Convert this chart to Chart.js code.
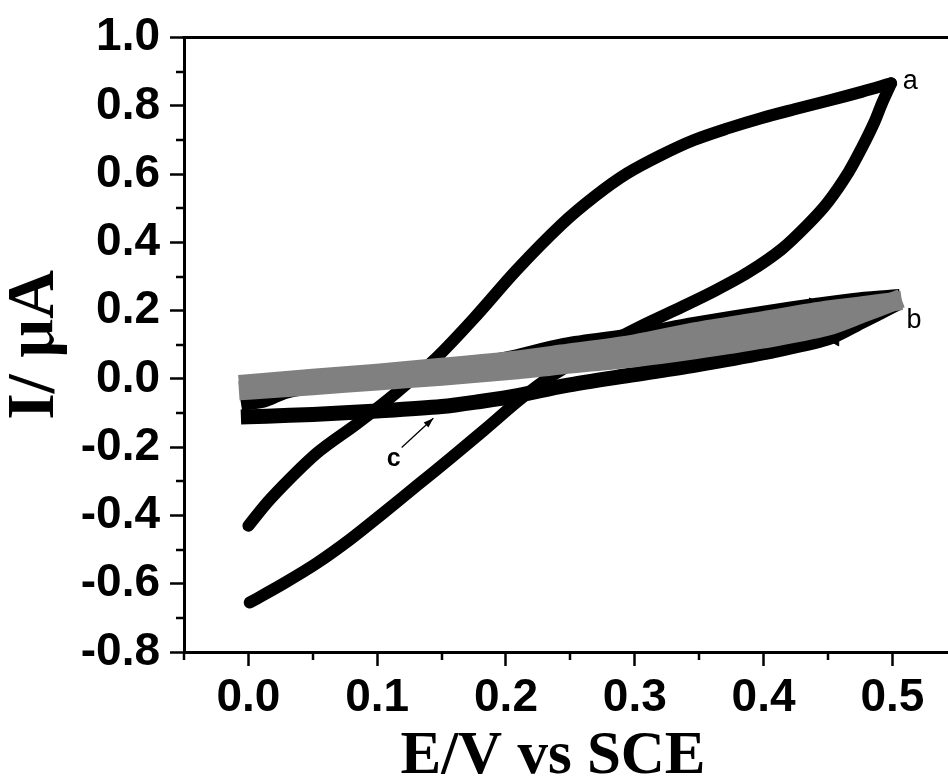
<!DOCTYPE html>
<html><head><meta charset="utf-8">
<script src="https://cdn.jsdelivr.net/npm/chart.js@4.4.1/dist/chart.umd.min.js"></script>
<style>html,body{margin:0;padding:0;background:#fff;overflow:hidden}#wrap{width:948px;height:784px;position:relative}</style>
</head><body><div id="wrap"><canvas id="cv"></canvas></div>
<script>
// ---- tick values ----
const xMajorTicks = [0.0, 0.1, 0.2, 0.3, 0.4, 0.5];
const xMinorTicks = [-0.05, 0.05, 0.15, 0.25, 0.35, 0.45];
const yMajorTicks = [-0.8, -0.6, -0.4, -0.2, 0.0, 0.2, 0.4, 0.6, 0.8, 1.0];
const yMinorTicks = [-0.7, -0.5, -0.3, -0.1, 0.1, 0.3, 0.5, 0.7, 0.9];

// ---- curve a (forward / reverse scan) ----
const aForwardE = [0.000, 0.017, 0.053, 0.084, 0.115, 0.146, 0.175, 0.208, 0.243, 0.269, 0.294, 0.320, 0.346, 0.372, 0.398, 0.424, 0.450, 0.476, 0.499];
const aForwardI = [-0.430, -0.352, -0.218, -0.132, -0.040, 0.062, 0.177, 0.318, 0.452, 0.535, 0.602, 0.655, 0.700, 0.734, 0.764, 0.790, 0.815, 0.841, 0.866];
const aReverseE = [0.499, 0.492, 0.486, 0.476, 0.466, 0.450, 0.435, 0.414, 0.388, 0.362, 0.336, 0.310, 0.280, 0.250, 0.228, 0.209, 0.183, 0.157, 0.131, 0.105, 0.079, 0.053, 0.027, 0.001];
const aReverseI = [0.866, 0.808, 0.752, 0.675, 0.606, 0.518, 0.455, 0.380, 0.312, 0.258, 0.210, 0.164, 0.106, 0.042, -0.010, -0.066, -0.150, -0.232, -0.312, -0.392, -0.470, -0.540, -0.600, -0.655];

// ---- curve b (grey) ----
const bUpperE = [0.000, 0.050, 0.100, 0.150, 0.209, 0.243, 0.300, 0.346, 0.400, 0.450, 0.480, 0.500];
const bUpperI = [-0.014, 0.002, 0.017, 0.034, 0.056, 0.073, 0.103, 0.138, 0.171, 0.202, 0.216, 0.226];
const bLowerE = [0.500, 0.476, 0.450, 0.400, 0.346, 0.300, 0.243, 0.209, 0.150, 0.100, 0.050, 0.000];
const bLowerI = [0.226, 0.191, 0.155, 0.117, 0.085, 0.062, 0.041, 0.027, 0.008, -0.006, -0.020, -0.033];

// ---- curve c (black, under b) ----
const cUpperE = [0.000, 0.012, 0.030, 0.060, 0.100, 0.150, 0.200, 0.245, 0.300, 0.346, 0.400, 0.440, 0.470, 0.500];
const cUpperI = [-0.069, -0.062, -0.035, -0.015, 0.003, 0.025, 0.058, 0.098, 0.128, 0.160, 0.193, 0.215, 0.230, 0.240];
const cLowerE = [0.500, 0.476, 0.450, 0.400, 0.346, 0.300, 0.245, 0.210, 0.180, 0.150, 0.100, 0.050, 0.014, 0.000];
const cLowerI = [0.214, 0.168, 0.120, 0.077, 0.040, 0.013, -0.020, -0.048, -0.066, -0.081, -0.094, -0.104, -0.109, -0.111];

// ---- scan-direction arrowheads on c ----
const arrowE = [0.438, 0.456];
const arrowI = [0.222, 0.112];
const arrowAngle = [90, 270];

// ---- curve labels ----
const curveLabels = [
  {text: 'a', E: 0.508, I: 0.849},
  {text: 'b', E: 0.511, I: 0.149},
  {text: 'c', E: 0.1074, I: -0.254}
];
const cPointer = {fromE: 0.119, fromI: -0.201, toE: 0.1436, toI: -0.115};

const xTitle = 'E/V vs SCE';
const yTitle = 'I/ \u03bcA';

function pts(E, I) { return E.map((e, i) => ({x: e, y: I[i]})); }
function isIn(list, v) { return list.some(t => Math.abs(t - v) < 1e-9); }

const lineBase = {showLine: true, pointRadius: 0, fill: false, tension: 0.3, borderJoinStyle: 'round'};

const overlay = {
  id: 'overlay',
  afterDraw(chart) {
    const {ctx, chartArea: ca, scales: {x, y}} = chart;
    ctx.save();
    ctx.strokeStyle = '#000';
    ctx.lineWidth = 3;
    ctx.beginPath(); ctx.moveTo(ca.left - 1.5, ca.top); ctx.lineTo(chart.width, ca.top); ctx.stroke();
    ctx.beginPath(); ctx.moveTo(ca.right - 1, ca.bottom + 0.5); ctx.lineTo(chart.width, ca.bottom + 0.5); ctx.stroke();
    ctx.lineWidth = 2.5;
    xMinorTicks.forEach(v => {
      const px = Math.round(x.getPixelForValue(v));
      ctx.beginPath(); ctx.moveTo(px, ca.bottom); ctx.lineTo(px, ca.bottom + 8); ctx.stroke();
    });
    yMinorTicks.forEach(v => {
      const py = Math.round(y.getPixelForValue(v));
      ctx.beginPath(); ctx.moveTo(ca.left, py); ctx.lineTo(ca.left - 8, py); ctx.stroke();
    });
    ctx.fillStyle = '#000';
    ctx.textAlign = 'left';
    ctx.textBaseline = 'alphabetic';
    curveLabels.forEach(l => {
      ctx.font = (l.text === 'c' ? 'bold 25px' : '27px') + ' "Liberation Sans", Arial, sans-serif';
      ctx.fillText(l.text, x.getPixelForValue(l.E), y.getPixelForValue(l.I));
    });
    const x1 = x.getPixelForValue(cPointer.fromE), y1 = y.getPixelForValue(cPointer.fromI);
    const x2 = x.getPixelForValue(cPointer.toE), y2 = y.getPixelForValue(cPointer.toI);
    ctx.lineWidth = 1.3;
    ctx.beginPath(); ctx.moveTo(x1, y1); ctx.lineTo(x2, y2); ctx.stroke();
    const ang = Math.atan2(y2 - y1, x2 - x1);
    ctx.beginPath();
    ctx.moveTo(x2, y2);
    ctx.lineTo(x2 - 10 * Math.cos(ang) + 3.5 * Math.sin(ang), y2 - 10 * Math.sin(ang) - 3.5 * Math.cos(ang));
    ctx.lineTo(x2 - 10 * Math.cos(ang) - 3.5 * Math.sin(ang), y2 - 10 * Math.sin(ang) + 3.5 * Math.cos(ang));
    ctx.closePath(); ctx.fill();
    ctx.restore();
  }
};

new Chart(document.getElementById('cv'), {
  type: 'scatter',
  data: {
    datasets: [
      Object.assign({label: 'b upper', data: pts(bUpperE, bUpperI), borderColor: '#808080', borderWidth: 19, borderCapStyle: 'square', order: 0}, lineBase),
      Object.assign({label: 'b lower', data: pts(bLowerE, bLowerI), borderColor: '#808080', borderWidth: 19, borderCapStyle: 'square', order: 0}, lineBase),
      {label: 'arrows', data: pts(arrowE, arrowI), showLine: false, pointStyle: 'triangle', pointRadius: 6, pointRotation: arrowAngle, backgroundColor: '#000', borderColor: '#000', borderWidth: 1, order: 0.5},
      Object.assign({label: 'c upper', data: pts(cUpperE, cUpperI), borderColor: '#000', borderWidth: 15, borderCapStyle: 'square', order: 1}, lineBase),
      Object.assign({label: 'c lower', data: pts(cLowerE, cLowerI), borderColor: '#000', borderWidth: 15, borderCapStyle: 'square', order: 1}, lineBase),
      Object.assign({label: 'a forward', data: pts(aForwardE, aForwardI), borderColor: '#000', borderWidth: 12, borderCapStyle: 'round', order: 2}, lineBase),
      Object.assign({label: 'a reverse', data: pts(aReverseE, aReverseI), borderColor: '#000', borderWidth: 12, borderCapStyle: 'round', order: 2}, lineBase)
    ]
  },
  options: {
    responsive: true,
    maintainAspectRatio: false,
    animation: false,
    devicePixelRatio: 1,
    layout: {padding: {top: 35, right: 26, left: 0, bottom: 0}},
    plugins: {legend: {display: false}, tooltip: {enabled: false}},
    scales: {
      x: {
        type: 'linear', position: 'bottom', min: -0.05, max: 0.523,
        afterBuildTicks: s => { s.ticks = [...xMinorTicks, ...xMajorTicks].sort((a, b) => a - b).map(v => ({value: v})); },
        afterFit: s => { s.height = 132; },
        border: {display: true, color: '#000', width: 3},
        grid: {display: true, drawOnChartArea: false, drawTicks: true, tickLength: 14, tickWidth: 2.5,
               tickColor: c => isIn(xMajorTicks, c.tick.value) ? '#000' : 'rgba(0,0,0,0)'},
        ticks: {autoSkip: false, maxRotation: 0, minRotation: 0, padding: 5, color: '#000',
                font: {family: '"Liberation Sans", Arial, sans-serif', weight: 'bold', size: 46},
                callback: v => isIn(xMajorTicks, v) ? Number(v).toFixed(1) : ''},
        title: {display: true, text: xTitle, color: '#000', padding: 0,
                font: {family: '"Liberation Serif", "Times New Roman", serif', weight: 'bold', size: 61, lineHeight: 0.88}}
      },
      y: {
        type: 'linear', position: 'left', min: -0.8, max: 1.0,
        afterBuildTicks: s => { s.ticks = [...yMinorTicks, ...yMajorTicks].sort((a, b) => a - b).map(v => ({value: v})); },
        afterFit: s => { s.width = 184; },
        border: {display: true, color: '#000', width: 3},
        grid: {display: true, drawOnChartArea: false, drawTicks: true, tickLength: 14, tickWidth: 2.5,
               tickColor: c => isIn(yMajorTicks, c.tick.value) ? '#000' : 'rgba(0,0,0,0)'},
        ticks: {autoSkip: false, padding: 10, color: '#000',
                font: {family: '"Liberation Sans", Arial, sans-serif', weight: 'bold', size: 46},
                callback: v => isIn(yMajorTicks, v) ? Number(v).toFixed(1) : ''},
        title: {display: true, text: yTitle, color: '#000', padding: 0,
                font: {family: '"Liberation Serif", "Times New Roman", serif', weight: 'bold', size: 68, lineHeight: 1.05}}
      }
    }
  },
  plugins: [overlay]
});
</script>
</body></html>
